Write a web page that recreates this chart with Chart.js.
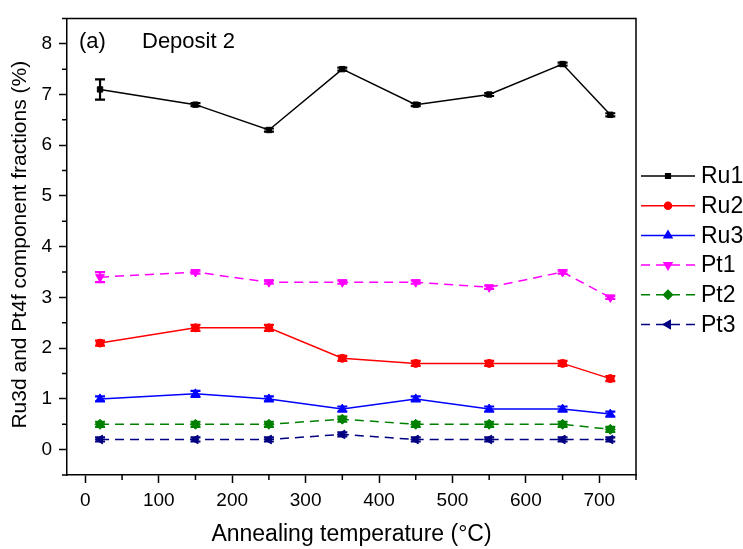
<!DOCTYPE html>
<html>
<head>
<meta charset="utf-8">
<script src="https://cdn.jsdelivr.net/npm/chart.js@4"></script>
<style>
  body { margin: 0; background: #fff; }
  #wrap { width: 743px; height: 549px; position: relative; }
</style>
</head>
<body>
<div id="wrap"><canvas id="xpsChart"></canvas></div>
<script>
// --- Data ---
const temps = [20, 150, 250, 350, 450, 550, 650, 715];
const ru1 = [7.1, 6.8, 6.3, 7.5, 6.8, 7.0, 7.6, 6.6];
const ru2 = [2.1, 2.4, 2.4, 1.8, 1.7, 1.7, 1.7, 1.4];
const ru3 = [1.0, 1.1, 1.0, 0.8, 1.0, 0.8, 0.8, 0.7];
const pt1 = [3.4, 3.5, 3.3, 3.3, 3.3, 3.2, 3.5, 3.0];
const pt2 = [0.5, 0.5, 0.5, 0.6, 0.5, 0.5, 0.5, 0.4];
const pt3 = [0.2, 0.2, 0.2, 0.3, 0.2, 0.2, 0.2, 0.2];

// error bars (+/-)
const ru1Err = [0.2, 0.03, 0.03, 0.03, 0.03, 0.03, 0.03, 0.03];
const ru2Err = [0.05, 0.06, 0.06, 0.05, 0.05, 0.05, 0.05, 0.05];
const ru3Err = [0.05, 0.06, 0.05, 0.05, 0.05, 0.05, 0.05, 0.05];
const pt1Err = [0.1, 0.03, 0.03, 0.03, 0.03, 0.03, 0.03, 0.03];
const pt2Err = [0.05, 0.05, 0.05, 0.05, 0.05, 0.05, 0.05, 0.05];
const pt3Err = [0.04, 0.04, 0.04, 0.04, 0.04, 0.04, 0.04, 0.04];

const xTicks = [0, 100, 200, 300, 400, 500, 600, 700];
const xMinor = [50, 150, 250, 350, 450, 550, 650, 750];
const yTicks = [0, 1, 2, 3, 4, 5, 6, 7, 8];
const yMinor = [-0.5, 0.5, 1.5, 2.5, 3.5, 4.5, 5.5, 6.5, 7.5, 8.5];

const FONT = "'Liberation Sans', Arial, sans-serif";

function series(label, values, errs, color, style, rotation, radius, dashed) {
    return {
        label: label,
        data: temps.map((t, i) => ({ x: t, y: values[i] })),
        errors: errs,
        borderColor: color,
        backgroundColor: color,
        borderWidth: 1.5,
        borderDash: dashed ? [9, 6] : [],
        pointStyle: style,
        rotation: rotation,
        pointRadius: radius,
        pointBorderWidth: 1,
        tension: 0
    };
}

const datasets = [
    series('Ru1', ru1, ru1Err, '#000000', 'rect', 0, 3.8, false),
    series('Ru2', ru2, ru2Err, '#ff0000', 'circle', 0, 4, false),
    series('Ru3', ru3, ru3Err, '#0000ff', 'triangle', 0, 5, false),
    series('Pt1', pt1, pt1Err, '#ff00ff', 'triangle', 180, 5, true),
    series('Pt2', pt2, pt2Err, '#008000', 'rectRot', 0, 5, true),
    series('Pt3', pt3, pt3Err, '#000080', 'triangle', -90, 5, true)
];

// --- Extras: frame, minor ticks, error bars, legend, texts ---
const extras = {
    id: 'extras',
    afterDatasetsDraw(chart) {
        const ctx = chart.ctx;
        const xs = chart.scales.x, ys = chart.scales.y;
        ctx.save();
        // error bars
        chart.data.datasets.forEach(ds => {
            ctx.strokeStyle = ds.borderColor;
            ctx.lineWidth = 2.2;
            ds.data.forEach((p, i) => {
                const e = ds.errors[i];
                const px = xs.getPixelForValue(p.x);
                const top = ys.getPixelForValue(p.y + e);
                const bot = ys.getPixelForValue(p.y - e);
                ctx.beginPath();
                ctx.moveTo(px, top); ctx.lineTo(px, bot);
                ctx.moveTo(px - 5, top); ctx.lineTo(px + 5, top);
                ctx.moveTo(px - 5, bot); ctx.lineTo(px + 5, bot);
                ctx.stroke();
            });
        });
        ctx.restore();
    },
    afterDraw(chart) {
        const ctx = chart.ctx;
        const a = chart.chartArea;
        const xs = chart.scales.x, ys = chart.scales.y;
        ctx.save();
        // frame top/right
        ctx.strokeStyle = '#000';
        ctx.lineWidth = 1.5;
        ctx.beginPath();
        ctx.moveTo(a.left, a.top); ctx.lineTo(a.right, a.top); ctx.lineTo(a.right, a.bottom);
        ctx.stroke();
        // minor ticks
        ctx.beginPath();
        xMinor.forEach(v => {
            const px = xs.getPixelForValue(v);
            ctx.moveTo(px, a.bottom); ctx.lineTo(px, a.bottom + 5);
        });
        yMinor.forEach(v => {
            const py = ys.getPixelForValue(v);
            ctx.moveTo(a.left, py); ctx.lineTo(a.left - 5, py);
        });
        ctx.stroke();

        // annotations
        ctx.fillStyle = '#000';
        ctx.font = '22px ' + FONT;
        ctx.textBaseline = 'middle';
        ctx.textAlign = 'left';
        ctx.fillText('(a)', 79, 42);
        ctx.fillText('Deposit 2', 142, 42);

        // axis titles
        ctx.textAlign = 'center';
        ctx.font = '23px ' + FONT;
        ctx.fillText('Annealing temperature (\u00B0C)', (a.left + a.right) / 2, 535);
        ctx.save();
        ctx.font = '21px ' + FONT;
        ctx.translate(20, (a.top + a.bottom) / 2 - 2);
        ctx.rotate(-Math.PI / 2);
        ctx.fillText('Ru3d and Pt4f component fractions (%)', 0, 0);
        ctx.restore();

        // legend
        const lx0 = 641, lx1 = 695, ly0 = 176, dy = 29.7;
        chart.data.datasets.forEach((ds, i) => {
            const y = ly0 + i * dy;
            ctx.strokeStyle = ds.borderColor;
            ctx.lineWidth = 1.5;
            ctx.setLineDash(ds.borderDash);
            ctx.beginPath();
            ctx.moveTo(lx0, y); ctx.lineTo(lx1, y);
            ctx.stroke();
            ctx.setLineDash([]);
            ctx.fillStyle = ds.backgroundColor;
            Chart.helpers.drawPoint(ctx, {
                pointStyle: ds.pointStyle, rotation: ds.rotation,
                radius: ds.pointRadius - 0.5, borderWidth: 1
            }, (lx0 + lx1) / 2, y);
            ctx.fillStyle = '#000';
            ctx.textAlign = 'left';
            ctx.font = '23px ' + FONT;
            ctx.fillText(ds.label, 701, y + 1);
        });
        ctx.restore();
    }
};

// --- Chart Setup ---
const ctx = document.getElementById('xpsChart').getContext('2d');
const chart = new Chart(ctx, {
    type: 'line',
    data: { datasets: datasets },
    options: {
        responsive: true,
        maintainAspectRatio: false,
        animation: false,
        layout: { padding: { left: 0, top: 15, right: 107, bottom: 0 } },
        plugins: { legend: { display: false }, tooltip: { enabled: false } },
        scales: {
            x: {
                type: 'linear', min: -25, max: 750,
                afterBuildTicks: s => { s.ticks = xTicks.map(v => ({ value: v })); },
                afterFit: s => { s.height = 74; },
                grid: { drawOnChartArea: false, drawTicks: true, tickLength: 8, tickColor: '#000', tickWidth: 1.5 },
                border: { color: '#000', width: 1.5 },
                ticks: { color: '#000', font: { size: 19, family: FONT }, padding: 6, maxRotation: 0, autoSkip: false }
            },
            y: {
                type: 'linear', min: -0.5, max: 8.5,
                afterBuildTicks: s => { s.ticks = yTicks.map(v => ({ value: v })); },
                afterFit: s => { s.width = 67; },
                grid: { drawOnChartArea: false, drawTicks: true, tickLength: 8, tickColor: '#000', tickWidth: 1.5 },
                border: { color: '#000', width: 1.5 },
                ticks: { color: '#000', font: { size: 19, family: FONT }, padding: 7, autoSkip: false }
            }
        }
    },
    plugins: [extras]
});
</script>
</body>
</html>
